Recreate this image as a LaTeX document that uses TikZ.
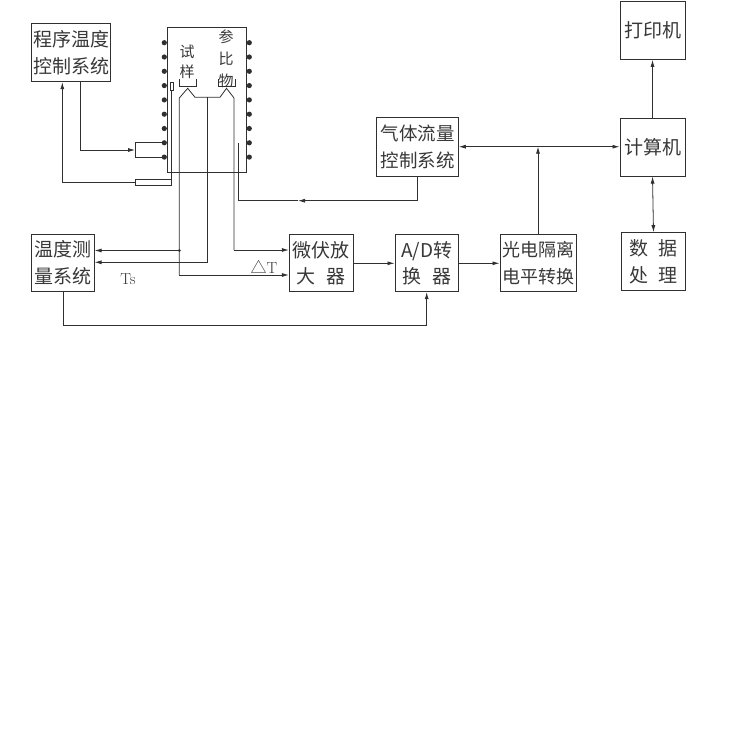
\documentclass[tikz,border=0pt]{standalone}
\usepackage{fontspec}
\newfontfamily\cjk{Noto Sans CJK SC}
\usetikzlibrary{arrows.meta}
\definecolor{linec}{HTML}{303030}
\definecolor{txtc}{HTML}{383838}
\tikzset{
  box/.style={draw=linec, line width=1pt, inner sep=0pt, align=center, text=txtc,
    font=\cjk\fontsize{19}{26.5}\selectfont},
  wire/.style={draw=linec, line width=0.8pt},
  arr/.style={wire, -{Latex[length=7pt,width=4pt]}},
  barr/.style={wire, {Latex[length=7pt,width=4pt]}-{Latex[length=7pt,width=4pt]}},
  small/.style={text=txtc, font=\cjk\fontsize{15}{20}\selectfont, inner sep=0pt, align=center}
}
\begin{document}
\begin{tikzpicture}[x=1pt,y=-1pt]
\useasboundingbox (0,0) rectangle (750,750);
% boxes
\node[box, minimum width=79pt, minimum height=57.7pt] (prog) at (71.2,52.8) {程序温度\\控制系统};
\node[box, minimum width=81.6pt, minimum height=58.7pt, font=\cjk\fontsize{18.5}{26.5}\selectfont] (gas) at (417.5,146.7) {气体流量\\控制系统};
\node[box, minimum width=65pt, minimum height=57.7pt] (comp) at (652.5,147.2) {计算机};
\node[box, minimum width=65pt, minimum height=57.6pt] (printer) at (652.5,30.5) {打印机};
\node[box, minimum width=64.3pt, minimum height=58pt] (data) at (653.5,261.7) {数\hspace{0.5em}据\\处\hspace{0.5em}理};
\node[box, minimum width=62.3pt, minimum height=56.7pt] (temp) at (62.9,262.7) {温度测\\量系统};
\node[box, minimum width=64pt, minimum height=56.7pt] (amp) at (321.3,263.3) {微伏放\\大\hspace{0.6em}器};
\node[box, minimum width=63.3pt, minimum height=56.7pt] (ad) at (426.7,263.3) {A/D转\\换\hspace{0.6em}器};
\node[box, minimum width=76pt, minimum height=56.7pt, font=\cjk\fontsize{18}{26.5}\selectfont] (photo) at (538,263.3) {光电隔离\\电平转换};
% furnace
\draw[wire, line width=1pt] (167.7,27.3) rectangle (246.7,172.7);
\foreach \y in {42.7,57,71.3,85.6,99.9,114.2,128.5,142.8,157.1} {
  \fill[linec] (164.3,\y) circle (2.6);
  \fill[linec] (249.3,\y) circle (2.6);
}
\node[small] (tsample) at (187,61.5) {试\\样};
\node[small, font=\cjk\fontsize{15}{22}\selectfont] (tref) at (226,58.5) {参\\比\\物};
% cups
\draw[wire] (179.3,79) -- (179.3,86) -- (196,86) -- (196,79);
\draw[wire] (218.3,79) -- (218.3,86) -- (235,86) -- (235,79);
% thermocouple wires
\coordinate (lleg) at (179.3,275);
\coordinate (rleg) at (234,250);
\coordinate (mleg) at (207.5,262.3);
\coordinate (jdot) at (179.3,250.5);
\draw[wire] (lleg) -- (179.3,98) -- (187.7,88.3) -- (195,97.3) -- (220,97.3) -- (226.5,88.3) -- (234,98) -- (rleg);
\draw[wire] (207.5,97.3) -- (mleg);
\fill[linec] (jdot) circle (1.5);
\draw[arr] (rleg) -- (rleg -| amp.west);
\draw[arr] (lleg) -- (lleg -| amp.west);
\draw[arr] (jdot) -- (jdot -| temp.east);
\draw[arr] (mleg) -- (mleg -| temp.east);
\node[text=txtc, font=\fontsize{16}{18}\selectfont, inner sep=0pt] (ts) at (128,279) {Ts};
\node[text=txtc, inner sep=0pt] (dt) at (264,267) {{\cjk\fontsize{16}{18}\selectfont △}{\fontsize{16}{18}\selectfont T}};
% heater supply
\coordinate (hb) at (135,150);
\draw[arr] ([xshift=9.5pt]prog.south) |- (hb);
\draw[wire] (135,142.8) -- (164.3,142.8);
\draw[wire] (135,157.1) -- (164.3,157.1);
\draw[wire] (135,142.8) -- (135,157.1);
% control thermocouple
\draw[wire] (170,82.7) rectangle (173.6,90.7);
\draw[wire] (171.8,90.7) -- (171.8,182);
\draw[wire] (135,179.3) rectangle (171.8,185);
\coordinate (tcl) at (135,182);
\draw[arr] (tcl) -| ([xshift=-8.9pt]prog.south);
% gas line
\coordinate (gtip) at (298,200.7);
\coordinate (gend) at (238.3,200.7);
\draw[arr] (gas.south) |- (gtip);
\draw[wire] (gtip) -- (gend) -- (238.3,142.7);
% signal chain
\draw[arr] (amp.east) -- (ad.west);
\draw[arr] (ad.east) -- (photo.west);
\coordinate (pj) at (photo.north |- gas.east);
\draw[arr] (photo.north) -- (pj);
\draw[arr] (pj) -- (gas.east);
\draw[arr] (pj) -- (pj -| comp.west);
\draw[arr] (comp.north) -- (printer.south);
\draw[barr] (comp.south) -- (data.north);
\draw[arr] (temp.south) -- ++(0,34) -| (ad.south);
\end{tikzpicture}
\end{document}
